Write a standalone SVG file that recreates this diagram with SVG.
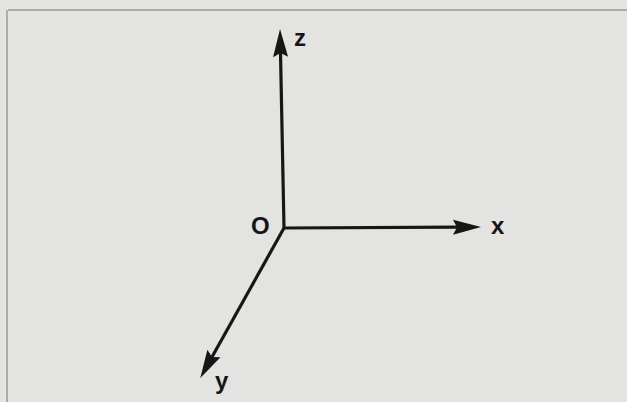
<svg xmlns="http://www.w3.org/2000/svg" width="627" height="402" viewBox="0 0 627 402">
<style>
.ax{stroke:#161616;stroke-width:3.2;fill:none;marker-end:url(#ah)}
.lb{font-family:"Liberation Sans",Arial,sans-serif;font-size:24px;fill:#161616;font-weight:bold}
.frame{stroke:#9a9a98;stroke-width:1.5;fill:none}
</style>
<defs>
<marker id="ah" markerUnits="userSpaceOnUse" markerWidth="30" markerHeight="16" refX="4" refY="7.5" orient="auto" overflow="visible">
<path d="M0,0 L28,7.5 L0,15 L4,7.5 z" fill="#161616"/>
</marker>
</defs>
<rect width="627" height="402" fill="#e3e3e1"/>
<path class="frame" d="M8,10 H627 M7,10 V402"/>
<g id="connectors">
<path class="ax" d="M284,228 L280.5,53"/>
<path class="ax" d="M284,228 L457,227.2"/>
<path class="ax" d="M284,228 L212,357"/>
</g>
<g id="origin"><text class="lb" x="251" y="234">O</text></g>
<g id="z"><text class="lb" x="294" y="46">z</text></g>
<g id="x"><text class="lb" x="491" y="234">x</text></g>
<g id="y"><text class="lb" x="215" y="389">y</text></g>
</svg>
